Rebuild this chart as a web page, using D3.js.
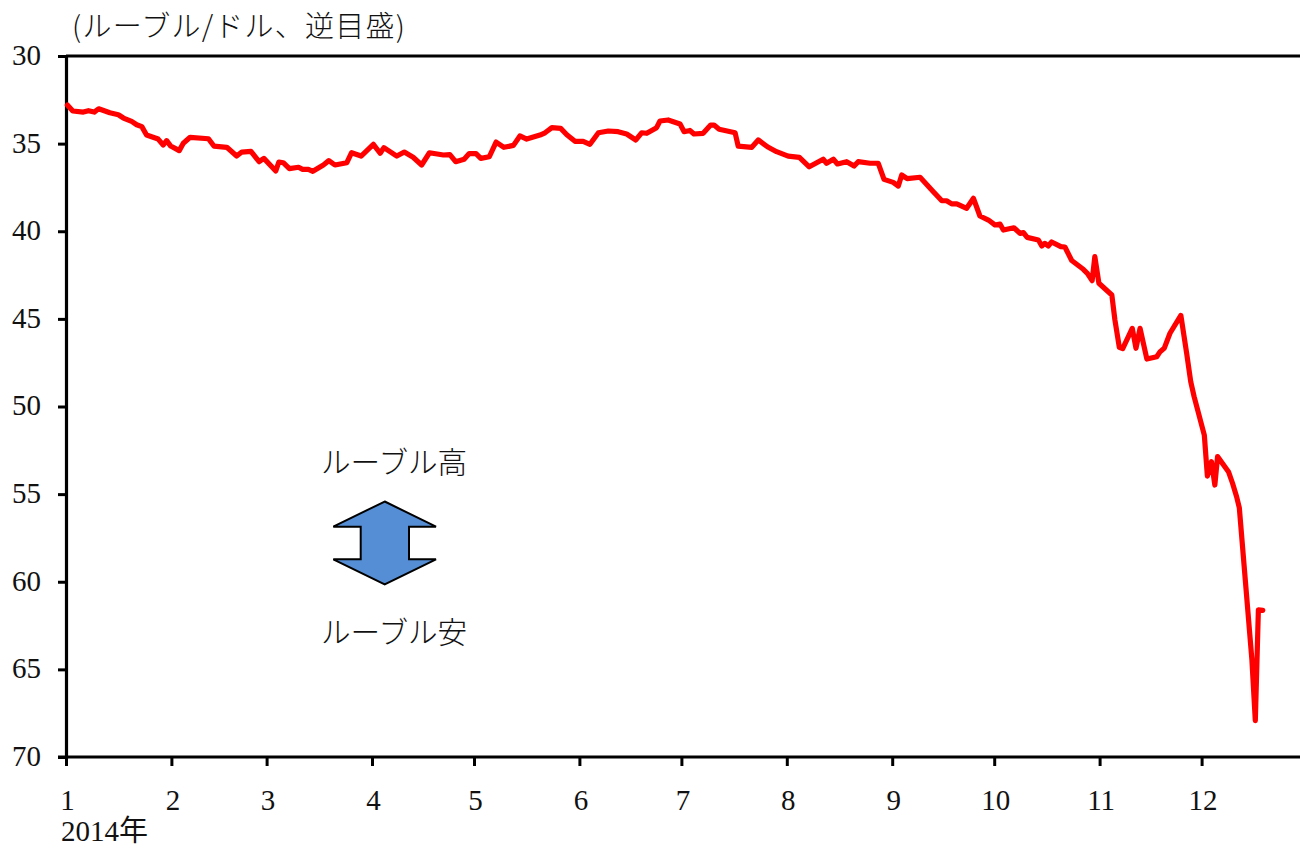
<!DOCTYPE html>
<html><head><meta charset="utf-8">
<style>
html,body{margin:0;padding:0;background:#fff;}
svg{display:block;}
text{font-family:"Liberation Serif","Noto Sans CJK JP",serif;fill:#111;}
.cjk{font-family:"Noto Sans CJK JP","Liberation Serif",sans-serif;font-weight:300;}
</style>
<script src="https://cdn.jsdelivr.net/npm/d3@7"></script>
</head><body><div id="chart"></div>
<script>
// day of year (0 = 1 Jan 2014)
const days = [0.4,2,5.1,6.6,8.3,9.6,12.9,15.4,16.9,19.3,20.8,22.3,23.7,27.1,28.6,29.6,30.8,33.3,34.5,36.5,41.9,43.5,47.3,50.2,51.7,54.4,56.8,58.2,61.7,62.6,63.9,65.7,68.4,69.6,71.3,72.6,75.7,77.3,79.1,82.6,84,86.8,90.4,92.4,93.5,97.3,99.5,102.1,104.6,106.9,111,112.9,114.6,117.1,118.6,120.6,122,124.5,126.5,128.8,131.6,133.5,135.5,139.4,140.9,142.9,145.5,147.3,149.7,152.1,154.1,156.6,159.5,162.4,164.9,167.6,169.3,170.8,173.7,174.7,177.1,180.6,181.8,183.5,184.7,187.4,189.6,190.6,192.1,196.8,197.7,201.7,203.6,206.3,209,212.4,215.7,218.6,222.7,223.7,225.7,226.9,229.6,231.8,233,236.5,238.9,240.6,243.3,244.8,245.8,247.4,251.2,255.1,257.6,259,260.5,262,264.9,266.9,268.8,271.3,273.2,274.7,275.7,278.8,280.6,281.6,282.7,286,287,287.9,288.9,289.9,292.6,293.8,295.8,299.2,300.4,301.8,302.6,303.8,307.6,308.5,309.8,310.8,313.6,314.7,315.9,317.9,320.8,321.8,323,324.7,327.9,329.6,330.8,331.8,334.8,335.7,336.9,337.9,338.7,341.9,343.1,344.3,345.1,348.8,349.8,350.7,352];
// rubles per dollar
const rates = [32.8,33.14,33.2,33.12,33.2,33.01,33.24,33.35,33.54,33.73,33.92,34.03,34.51,34.74,35.08,34.83,35.14,35.4,34.98,34.64,34.72,35.14,35.21,35.71,35.48,35.44,36.03,35.84,36.56,36.05,36.09,36.43,36.35,36.47,36.47,36.58,36.22,35.97,36.22,36.09,35.52,35.71,35.04,35.55,35.23,35.71,35.48,35.78,36.22,35.52,35.65,35.63,36.03,35.89,35.57,35.57,35.84,35.75,34.91,35.21,35.1,34.56,34.74,34.51,34.38,34.09,34.13,34.49,34.87,34.87,35.04,34.38,34.28,34.32,34.45,34.79,34.38,34.41,34.09,33.71,33.65,33.88,34.32,34.25,34.45,34.41,33.94,33.94,34.18,34.38,35.14,35.21,34.79,35.18,35.46,35.71,35.78,36.32,35.89,36.12,35.89,36.16,36.03,36.28,36.03,36.12,36.12,37.04,37.21,37.42,36.79,37,36.92,37.74,38.26,38.26,38.44,38.44,38.69,38.12,39.13,39.36,39.64,39.59,39.93,39.8,40.12,40.08,40.35,40.5,40.84,40.69,40.84,40.61,40.88,40.9,41.67,42.17,42.4,42.82,41.45,42.97,43.64,45.06,46.62,46.7,45.54,46.68,45.54,47.29,47.16,46.87,46.68,45.82,44.8,46.96,48.58,49.44,51.63,53.97,53.15,54.48,52.86,53.72,54.38,55.15,55.79,64.47,67.93,61.6,61.63];
const monthStarts = [0,31,59,90,120,151,181,212,243,273,304,334];
const monthLabels = ["1","2","3","4","5","6","7","8","9","10","11","12"];
const yTicks = [30,35,40,45,50,55,60,65,70];
const titleText = "(ルーブル/ドル、逆目盛)";
const yearLabel = "2014年";
const upLabel = "ルーブル高";
const downLabel = "ルーブル安";
// decorative double arrow outline (annotation, not data)
const arrowShape = [[384.7,501.5],[436,526.7],[409,526.7],[409,559.3],[436,559.3],[384.7,584.5],[333.3,559.3],[360.7,559.3],[360.7,526.7],[333.3,526.7]];

const W=1300,H=846, plotLeft=66, plotTop=56, plotBottom=757;
const svg=d3.select("#chart").append("svg").attr("width",W).attr("height",H).attr("viewBox",`0 0 ${W} ${H}`);
const x=d3.scaleLinear().domain([0,365]).range([plotLeft,plotLeft+365*3.4]);
const y=d3.scaleLinear().domain([30,70]).range([plotTop,plotBottom]);
const fs=29;

// top border
svg.append("line").attr("x1",plotLeft).attr("x2",W).attr("y1",y(30)).attr("y2",y(30)).attr("stroke","#000").attr("stroke-width",3);

const yAxis=svg.append("g").attr("transform",`translate(${plotLeft},0)`)
  .call(d3.axisLeft(y).tickValues(yTicks).tickSize(8).tickPadding(18));
yAxis.select(".domain").attr("stroke","#000").attr("stroke-width",3.2);
yAxis.selectAll(".tick line").attr("stroke","#000").attr("stroke-width",3);
yAxis.selectAll(".tick text").style("font-size",fs+"px").style("font-family",'"Liberation Serif"').attr("fill","#111").attr("dy","0.29em").attr("x",-25);

const xAxis=svg.append("g").attr("transform",`translate(0,${plotBottom})`)
  .call(d3.axisBottom(x).tickValues(monthStarts).tickFormat((d,i)=>monthLabels[i]).tickSize(9).tickPadding(0));
xAxis.select(".domain").remove();
svg.append("line").attr("x1",plotLeft-8).attr("x2",W).attr("y1",plotBottom).attr("y2",plotBottom).attr("stroke","#000").attr("stroke-width",3);
xAxis.selectAll(".tick line").attr("stroke","#000").attr("stroke-width",3);
xAxis.selectAll(".tick text").style("font-size",fs+"px").style("font-family",'"Liberation Serif"').attr("fill","#111").attr("y",53).attr("dy",0).attr("dx",1);

const line=d3.line().x(d=>x(d[0])).y(d=>y(d[1]));
svg.append("path").datum(days.map((d,i)=>[d,rates[i]])).attr("d",line)
  .attr("fill","none").attr("stroke","#ff0000").attr("stroke-width",5.2).attr("stroke-linejoin","round").attr("stroke-linecap","round");

svg.append("polygon").attr("points",arrowShape.map(p=>p.join(",")).join(" "))
  .attr("fill","#558ed5").attr("stroke","#000").attr("stroke-width",2);

svg.append("text").attr("class","cjk").attr("x",72).attr("y",37).attr("font-size",29).attr("textLength",333).attr("lengthAdjust","spacing").text(titleText);
svg.append("text").attr("class","cjk").attr("x",321).attr("y",473).attr("font-size",29.6).text(upLabel);
svg.append("text").attr("class","cjk").attr("x",321).attr("y",643).attr("font-size",29.6).text(downLabel);
svg.append("text").attr("x",61).attr("y",841).attr("font-size",fs).text(yearLabel);
</script></body></html>
